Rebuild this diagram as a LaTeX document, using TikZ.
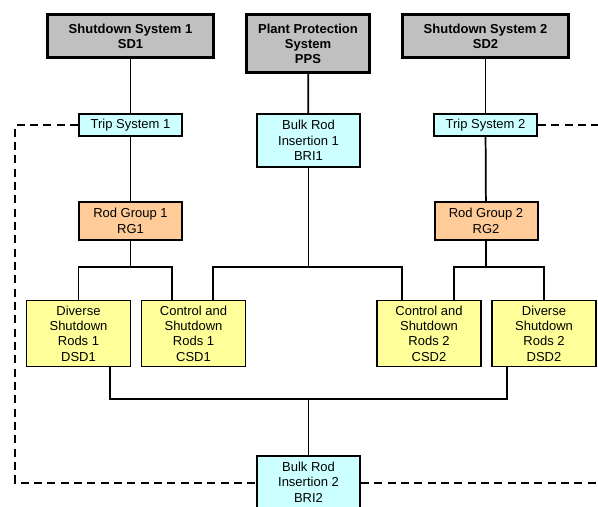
\documentclass[tikz,border=0pt]{standalone}
\usepackage{fontspec}
\setmainfont{Liberation Sans}
\usepackage{xcolor}
\usetikzlibrary{calc}

\definecolor{sysgrey}{HTML}{C0C0C0}
\definecolor{tripcyan}{HTML}{CCFFFF}
\definecolor{grouporange}{HTML}{FFCC99}
\definecolor{rodyellow}{HTML}{FFFF99}

\tikzset{
    box/.style={draw, align=center, inner sep=0pt, font=\fontsize{9.75}{11.5}\selectfont},
    sysbox/.style={box, fill=sysgrey, line width=2.25pt, font=\fontsize{9.75}{11.25}\selectfont\bfseries},
    tripbox/.style={box, fill=tripcyan, line width=1.5pt, minimum width=77.25pt},
    groupbox/.style={box, fill=grouporange, line width=1.5pt, minimum width=77.25pt, minimum height=28.5pt},
    rodbox/.style={box, fill=rodyellow, line width=1pt, minimum width=78pt, minimum height=49.5pt},
    link/.style={line width=1.3pt},
    trip link/.style={line width=1.2pt, dash pattern=on 6pt off 4pt}
}

\begin{document}
\begin{tikzpicture}[x=0.75pt,y=-0.75pt]
\useasboundingbox (0,0) rectangle (598,506);

% top row
\node[sysbox, minimum width=124.5pt, minimum height=32.25pt] (sd1) at (130.5,36) {Shutdown System 1\\SD1};
\node[sysbox, minimum width=92.25pt, minimum height=43.5pt] (pps) at (308,43.5) {Plant Protection\\System\\PPS};
\node[sysbox, minimum width=124.5pt, minimum height=32.25pt] (sd2) at (485.5,36) {Shutdown System 2\\SD2};

% trip systems and bulk insertion
\node[tripbox, minimum height=16.5pt] (trip1) at (130.5,125) {Trip System 1};
\node[tripbox, minimum height=39.75pt] (bri1) at (308.5,140.5) {Bulk Rod\\Insertion 1\\BRI1};
\node[tripbox, minimum height=16.5pt] (trip2) at (485.5,125) {Trip System 2};

% rod groups
\node[groupbox] (rg1) at (130.5,221) {Rod Group 1\\RG1};
\node[groupbox] (rg2) at (486,221) {Rod Group 2\\RG2};

% rods
\node[rodbox] (dsd1) at (78.5,333.5) {Diverse\\Shutdown\\Rods 1\\DSD1};
\node[rodbox] (csd1) at (193.5,333.5) {Control and\\Shutdown\\Rods 1\\CSD1};
\node[rodbox] (csd2) at (429,333.5) {Control and\\Shutdown\\Rods 2\\CSD2};
\node[rodbox] (dsd2) at (544,333.5) {Diverse\\Shutdown\\Rods 2\\DSD2};

\node[tripbox, minimum height=39.75pt] (bri2) at (308.5,482) {Bulk Rod\\Insertion 2\\BRI2};

% bus points
\coordinate (bus1) at (130.5,267);
\coordinate (bus2) at (486,267);
\coordinate (busb) at (308.5,267);
\coordinate (buslow) at (308.5,399);
\coordinate (cornerup) at (15,125);
\coordinate (cornerlow) at (15,483);
\coordinate (edgeup) at (598,125);
\coordinate (edgelow) at (598,483);

% solid links
\draw[link] (sd1) -- (trip1);
\draw[link] (pps) -- (bri1);
\draw[link] (sd2) -- (trip2);
\draw[link] (trip1) -- (rg1);
\draw[link] (trip2) -- (rg2);
\draw[link] (rg1) -- (bus1);
\draw[link] (rg2) -- (bus2);
\draw[link] (dsd1.north) |- (bus1) -| ($(csd1.north)+(-21.5,0)$);
\draw[link] ($(csd2.north)+(25,0)$) |- (bus2) -| (dsd2.north);
\draw[link] (bri1) -- (busb);
\draw[link] ($(csd1.north)+(19.5,0)$) |- (busb) -| ($(csd2.north)+(-27,0)$);
\draw[link] ($(dsd1.south)+(31.5,0)$) |- (buslow) -| ($(dsd2.south)+(-37,0)$);
\draw[link] (buslow) -- (bri2);

% trip lines
\draw[trip link] (trip1.west) -- (cornerup) -- (cornerlow) -- (cornerlow -| bri2.west);
\draw[trip link] (bri2.east |- edgelow) -- (edgelow);
\draw[trip link] (trip2.east) -- (edgeup);
\end{tikzpicture}
\end{document}
